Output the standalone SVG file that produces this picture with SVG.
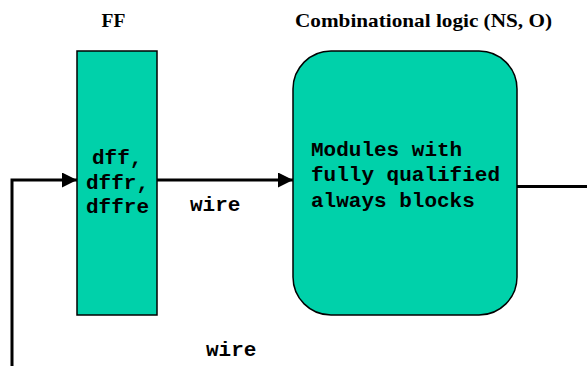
<svg xmlns="http://www.w3.org/2000/svg" width="587" height="366" viewBox="0 0 587 366">
<style>
.box{fill:#00D1AA;stroke:#000;stroke-width:1.5}
.title{font-family:"Liberation Serif","Times New Roman",serif;font-weight:bold;font-size:19.5px;fill:#000}
.mono{font-family:"Liberation Mono","Courier New",monospace;font-weight:bold;font-size:21px;fill:#000}
.wire{fill:none;stroke:#000;stroke-width:3}
</style>
<defs>
<marker id="arr" markerUnits="userSpaceOnUse" markerWidth="16" markerHeight="16" refX="15" refY="7.5" orient="auto">
<path d="M0,0 L15,7.5 L0,15 Z" fill="#000"/>
</marker>
</defs>
<rect width="587" height="366" fill="#fff"/>
<g id="ff">
<rect class="box" x="77" y="51" width="80" height="264"/>
<text class="title" x="113.5" y="27" text-anchor="middle">FF</text>
<text class="mono" x="92" y="164">dff,</text>
<text class="mono" x="86" y="188.5">dffr,</text>
<text class="mono" x="86" y="212.5">dffre</text>
</g>
<g id="comb">
<rect class="box" x="293" y="51" width="224" height="264" rx="38" ry="38"/>
<text class="title" x="295" y="27" textLength="257" lengthAdjust="spacingAndGlyphs">Combinational logic (NS, O)</text>
<text class="mono" x="311" y="155.7">Modules with</text>
<text class="mono" x="311" y="181">fully qualified</text>
<text class="mono" x="311" y="206.5">always blocks</text>
</g>
<g id="connectors">
<path class="wire" d="M12,366 L12,180 L77,180" marker-end="url(#arr)"/>
<path class="wire" d="M157,180 L293,180" marker-end="url(#arr)"/>
<path class="wire" d="M517,186.5 L587,186.5"/>
<text class="mono" x="190" y="211">wire</text>
<text class="mono" x="206" y="355.5">wire</text>
</g>
</svg>
